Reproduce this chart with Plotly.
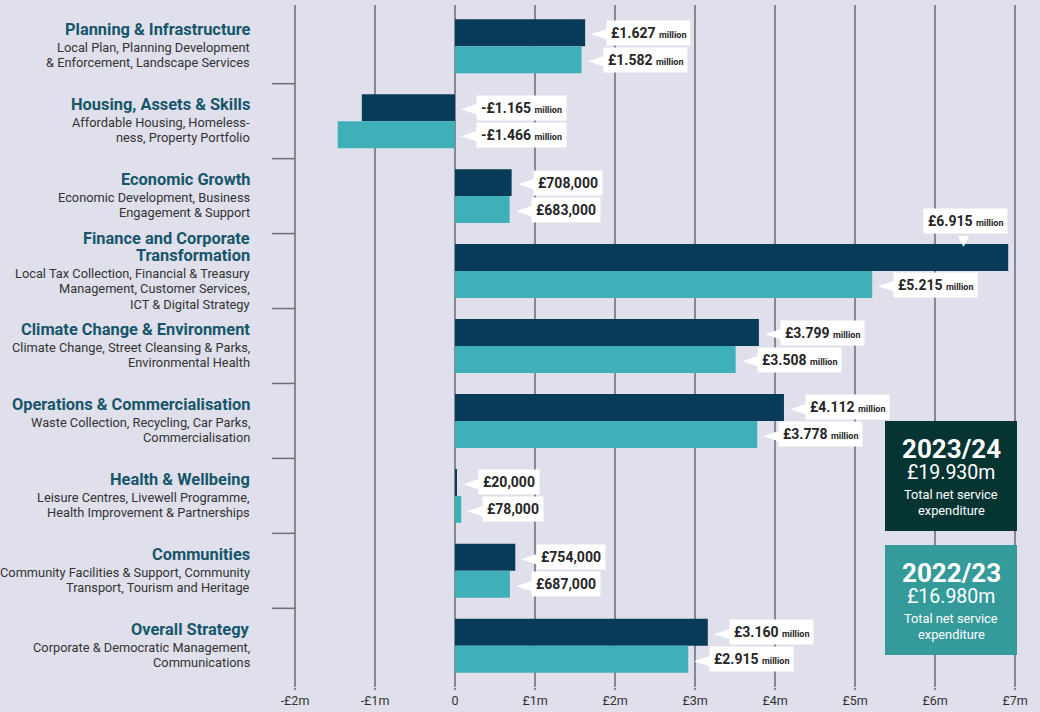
import plotly.graph_objects as go

# ---------------- data ----------------
categories = [
    "Planning & Infrastructure", "Housing, Assets & Skills", "Economic Growth",
    "Finance and Corporate Transformation", "Climate Change & Environment",
    "Operations & Commercialisation", "Health & Wellbeing", "Communities", "Overall Strategy",
]
title_lines = [
    ["Planning & Infrastructure"],
    ["Housing, Assets & Skills"],
    ["Economic Growth"],
    ["Finance and Corporate", "Transformation"],
    ["Climate Change & Environment"],
    ["Operations & Commercialisation"],
    ["Health & Wellbeing"],
    ["Communities"],
    ["Overall Strategy"],
]
subtitle_lines = [
    ["Local Plan, Planning Development", "& Enforcement, Landscape Services"],
    ["Affordable Housing, Homeless-", "ness, Property Portfolio"],
    ["Economic Development, Business", "Engagement & Support"],
    ["Local Tax Collection, Financial & Treasury", "Management, Customer Services,", "ICT & Digital Strategy"],
    ["Climate Change, Street Cleansing & Parks,", "Environmental Health"],
    ["Waste Collection, Recycling, Car Parks,", "Commercialisation"],
    ["Leisure Centres, Livewell Programme,", "Health Improvement & Partnerships"],
    ["Community Facilities & Support, Community", "Transport, Tourism and Heritage"],
    ["Corporate & Democratic Management,", "Communications"],
]
series_names = ["2023/24", "2022/23"]
values_2324 = [1.627, -1.165, 0.708, 6.915, 3.799, 4.112, 0.020, 0.754, 3.160]
values_2223 = [1.582, -1.466, 0.683, 5.215, 3.508, 3.778, 0.078, 0.687, 2.915]
totals = ["£19.930m", "£16.980m"]
total_caption = ["Total net service", "expenditure"]
tick_vals = [-2, -1, 0, 1, 2, 3, 4, 5, 6, 7]
tick_text = ["-£2m", "-£1m", "0", "£1m", "£2m", "£3m", "£4m", "£5m", "£6m", "£7m"]

# ---------------- style ----------------
BG = "#dfe0ec"
DARK = "#083b57"
TEAL = "#40b0b8"
BOX_COLORS = ["#053433", "#349a9a"]
GRID = "#88878f"
TITLE_COL = "#17566a"
SUB_COL = "#333333"
FONT = "Roboto"

W, H = 1040, 712
PL, PT, PR, PB = 293, 5, 1017, 687


def px_x(px):
    return (px - PL) / (PR - PL)


def px_y(py):
    return (PB - py) / (PB - PT)


def fmt(v):
    if abs(v) >= 1:
        sign = "-" if v < 0 else ""
        return f"<b>{sign}£{abs(v):.3f}</b> <b><span style='font-size:9px'>million</span></b>"
    return f"<b>£{round(v * 1e6):,}</b>"


fig = go.Figure()
fig.add_trace(go.Bar(y=categories, x=values_2324, orientation="h", name=series_names[0],
                     marker=dict(color=DARK, line=dict(width=0))))
fig.add_trace(go.Bar(y=categories, x=values_2223, orientation="h", name=series_names[1],
                     marker=dict(color=TEAL, line=dict(width=0))))

annotations = []
shapes = []

# category labels: one annotation per text line
T_STEP, TS_STEP, S_STEP = 17, 18, 15.5
for i, cat in enumerate(categories):
    pos = 0.0
    lines = []
    for j, t in enumerate(title_lines[i]):
        if j > 0:
            pos += T_STEP
        lines.append((pos, f"<b>{t}</b>", 16.4, TITLE_COL))
    for j, s in enumerate(subtitle_lines[i]):
        pos += TS_STEP if j == 0 else S_STEP
        lines.append((pos, s, 12.8, SUB_COL))
    mid = pos / 2
    for p, txt, fs, col in lines:
        annotations.append(dict(
            xref="paper", x=0, xshift=-41, xanchor="right", align="right",
            yref="y", y=cat, yanchor="middle", yshift=mid - p,
            text=txt, font=dict(family=FONT, size=fs, color=col), showarrow=False,
        ))

# value labels
BAR_HALF = 13.5
for vals, ysh in ((values_2324, BAR_HALF), (values_2223, -BAR_HALF)):
    for cat, v in zip(categories, vals):
        if v > 6.5:
            # label above the bar with a downward pointer
            annotations.append(dict(
                x=v, y=cat, xanchor="right", yanchor="middle", xshift=0, yshift=ysh + 37,
                text=fmt(v), bgcolor="white", borderpad=4, showarrow=False,
                font=dict(family=FONT, size=14, color="#262626")))
            annotations.append(dict(
                x=v, y=cat, xanchor="center", yanchor="middle", xshift=-45, yshift=ysh + 18,
                text="▼", showarrow=False,
                font=dict(family="DejaVu Sans", size=14, color="white")))
        else:
            base = max(v, 0)
            annotations.append(dict(
                x=base, y=cat, xanchor="left", yanchor="middle", xshift=21, yshift=ysh,
                text=fmt(v), bgcolor="white", borderpad=4, showarrow=False,
                font=dict(family=FONT, size=14, color="#262626")))
            annotations.append(dict(
                x=base, y=cat, xanchor="right", yanchor="middle", xshift=25, yshift=ysh,
                text="◄", showarrow=False,
                font=dict(family="DejaVu Sans", size=22, color="white")))

# separator ticks between categories
for i in range(len(categories) - 1):
    shapes.append(dict(type="line", xref="paper", yref="y",
                       x0=px_x(272), x1=px_x(295), y0=i + 0.5, y1=i + 0.5,
                       line=dict(color="#6f6e77", width=1.5)))

# total boxes
box_tops = [421, 545]
for k in range(2):
    top = box_tops[k]
    shapes.append(dict(type="rect", xref="paper", yref="paper",
                       x0=px_x(885), x1=px_x(1017), y0=px_y(top + 110), y1=px_y(top),
                       fillcolor=BOX_COLORS[k], line=dict(width=0), layer="above"))
    cx = px_x(951)
    rows = [(28, f"<b>{series_names[k]}</b>", 26),
            (51, totals[k], 19.5),
            (73, total_caption[0], 12.8),
            (89, total_caption[1], 12.8)]
    for dy, txt, fs in rows:
        annotations.append(dict(xref="paper", yref="paper", x=cx, y=px_y(top + dy),
                                xanchor="center", yanchor="middle", showarrow=False,
                                text=txt, font=dict(family=FONT, size=fs, color="white")))

fig.update_layout(
    width=W, height=H,
    margin=dict(l=PL, r=W - PR, t=PT, b=H - PB, pad=0, autoexpand=False),
    paper_bgcolor=BG, plot_bgcolor=BG,
    barmode="group", bargap=0.28, bargroupgap=0,
    showlegend=False,
    annotations=annotations, shapes=shapes,
    font=dict(family=FONT, color="#333333"),
)
fig.update_xaxes(range=[-2.025, 7.025], tickvals=tick_vals, ticktext=tick_text,
                 showgrid=True, gridcolor=GRID, gridwidth=1.5, zeroline=False,
                 ticks="outside", ticklen=2, tickcolor=GRID, tickwidth=1.5,
                 tickfont=dict(family=FONT, size=12.5, color="#333333"),
                 showline=False, fixedrange=True, automargin=False)
fig.update_yaxes(type="category", categoryorder="array", categoryarray=categories,
                 range=[len(categories) - 0.45, -0.55], showticklabels=False,
                 showgrid=False, zeroline=False, showline=False, ticks="",
                 fixedrange=True, automargin=False)

fig.write_html(
    "out.html",
    config={"displayModeBar": False},
    post_script="document.body.style.margin='0';document.body.style.padding='0';"
                "document.body.style.overflow='hidden';",
)
